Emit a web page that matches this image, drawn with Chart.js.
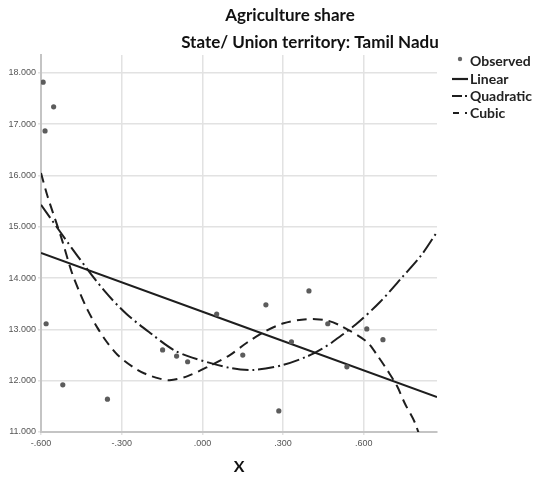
<!DOCTYPE html>
<html>
<head>
<meta charset="utf-8">
<script src="https://cdn.jsdelivr.net/npm/chart.js@4/dist/chart.umd.min.js"></script>
<style>
  html, body { margin: 0; padding: 0; background: #fff; }
  #wrap { width: 538px; height: 485px; }
</style>
</head>
<body>
<div id="wrap"><canvas id="c" width="538" height="485"></canvas></div>
<script>
// Observed values
const obsX = [-0.592, -0.553, -0.585, -0.581, -0.519, -0.353, -0.148, -0.096, -0.055, 0.053,
              0.150, 0.236, 0.284, 0.331, 0.396, 0.466, 0.537, 0.611, 0.671];
const obsY = [17.82, 17.34, 16.87, 13.11, 11.92, 11.64, 12.60, 12.48, 12.37, 13.30,
              12.50, 13.48, 11.41, 12.76, 13.75, 13.11, 12.27, 13.01, 12.80];

// Linear fit
const linX = [-0.6, 0.872];
const linY = [14.49, 11.68];

// Quadratic fit
const quadX = [-0.6, -0.464, -0.364, -0.282, -0.189, -0.107, -0.038, 0.102, 0.191, 0.295,
               0.388, 0.444, 0.485, 0.571, 0.661, 0.743, 0.814, 0.872];
const quadY = [15.43, 14.43, 13.75, 13.30, 12.91, 12.60, 12.45, 12.25, 12.21, 12.30,
               12.47, 12.62, 12.76, 13.10, 13.54, 14.02, 14.45, 14.90];

// Cubic fit
const cubX = [-0.6, -0.576, -0.524, -0.486, -0.457, -0.427, -0.390, -0.356, -0.315, -0.259,
              -0.215, -0.159, -0.122, -0.055, 0.027, 0.102, 0.165, 0.232, 0.302, 0.369,
              0.422, 0.466, 0.518, 0.611, 0.652, 0.689, 0.723, 0.753, 0.790, 0.830];
const cubY = [16.05, 15.60, 14.78, 14.12, 13.73, 13.38, 13.03, 12.76, 12.50, 12.27,
              12.14, 12.04, 12.01, 12.09, 12.29, 12.50, 12.74, 12.96, 13.12, 13.19,
              13.20, 13.17, 13.06, 12.76, 12.48, 12.19, 11.90, 11.55, 11.18, 10.55];

// Axis ticks
const xTicks = [-0.6, -0.3, 0, 0.3, 0.6];
const yTicks = [11, 12, 13, 14, 15, 16, 17, 18];

const titleText = 'Agriculture share';
const subtitleText = 'State/ Union territory: Tamil Nadu';
const legendLabels = ['Observed', 'Linear', 'Quadratic', 'Cubic'];

const pts = (xs, ys) => xs.map((x, i) => ({ x: x, y: ys[i] }));

const INK = '#1e1e1e';
const DASH_QUAD = [16, 4, 2, 4];
const DASH_CUB = [10, 6];

// Titles and legend drawn on top of the chart
const decor = {
  id: 'decor',
  afterDraw(chart) {
    const ctx = chart.ctx;
    ctx.save();
    ctx.fillStyle = '#111';
    ctx.textAlign = 'center';
    ctx.textBaseline = 'middle';
    ctx.font = 'bold 17px Lato, "Liberation Sans", sans-serif';
    ctx.fillText(titleText, 290, 16);
    ctx.fillText(subtitleText, 310, 43);

    // legend
    const lx = 452, tx = 470;
    const rows = [61, 79, 96, 113];
    ctx.textAlign = 'left';
    ctx.font = 'bold 14px Lato, "Liberation Sans", sans-serif';
    ctx.fillStyle = '#222';
    legendLabels.forEach((t, i) => ctx.fillText(t, tx, rows[i]));

    ctx.fillStyle = '#666';
    ctx.beginPath();
    ctx.arc(460, rows[0] - 2, 2.2, 0, Math.PI * 2);
    ctx.fill();

    ctx.strokeStyle = INK;
    ctx.lineWidth = 2.2;
    ctx.beginPath();
    ctx.moveTo(lx, rows[1]); ctx.lineTo(lx + 16, rows[1]);
    ctx.stroke();

    ctx.beginPath();
    ctx.moveTo(lx, rows[2]); ctx.lineTo(lx + 10, rows[2]);
    ctx.moveTo(lx + 13, rows[2]); ctx.lineTo(lx + 15, rows[2]);
    ctx.stroke();

    ctx.beginPath();
    ctx.moveTo(lx + 1, rows[3]); ctx.lineTo(lx + 7, rows[3]);
    ctx.moveTo(lx + 13, rows[3]); ctx.lineTo(lx + 15, rows[3]);
    ctx.stroke();
    ctx.restore();
  }
};

const lineDs = (label, xs, ys, dash) => ({
  type: 'line',
  label: label,
  data: pts(xs, ys),
  showLine: true,
  borderColor: INK,
  borderWidth: 2,
  borderDash: dash,
  pointRadius: 0,
  pointHoverRadius: 0,
  fill: false,
  tension: 0.3
});

new Chart(document.getElementById('c'), {
  type: 'scatter',
  data: {
    datasets: [
      {
        label: 'Observed',
        data: pts(obsX, obsY),
        backgroundColor: '#5c5c5c',
        borderColor: '#5c5c5c',
        pointRadius: 2.6,
        pointBorderWidth: 0
      },
      lineDs('Linear', linX, linY, []),
      lineDs('Quadratic', quadX, quadY, DASH_QUAD),
      lineDs('Cubic', cubX, cubY, DASH_CUB)
    ]
  },
  options: {
    responsive: false,
    animation: false,
    events: [],
    layout: { padding: { top: 55, right: 101, left: 0, bottom: 0 } },
    plugins: {
      legend: { display: false },
      title: { display: false },
      tooltip: { enabled: false }
    },
    scales: {
      x: {
        type: 'linear',
        min: -0.6,
        max: 0.872,
        afterBuildTicks: s => { s.ticks = xTicks.map(v => ({ value: v })); },
        afterFit: s => { s.height = 53; },
        grid: { color: '#e2e2e2', lineWidth: 1.5, tickLength: 3, drawTicks: true },
        border: { color: '#c4c4c4', width: 2 },
        ticks: {
          color: '#555',
          padding: 3,
          maxRotation: 0,
          font: { family: '"Liberation Sans Narrow", "Liberation Sans", sans-serif', size: 9 },
          callback: v => (v < 0 ? '-' : '') + Math.abs(v).toFixed(3).replace(/^0/, '')
        },
        title: {
          display: true,
          text: 'X',
          color: '#111',
          font: { family: 'Lato, "Liberation Sans", sans-serif', size: 16, weight: 'bold' },
          padding: { top: 0, bottom: 9 }
        }
      },
      y: {
        type: 'linear',
        min: 11,
        max: 18.35,
        afterBuildTicks: s => { s.ticks = yTicks.map(v => ({ value: v })); },
        afterFit: s => { s.width = 41; },
        grid: { color: '#e2e2e2', lineWidth: 1.5, tickLength: 3, drawTicks: true },
        border: { color: '#c4c4c4', width: 2 },
        ticks: {
          color: '#555',
          padding: 2,
          font: { family: '"Liberation Sans Narrow", "Liberation Sans", sans-serif', size: 9 },
          callback: v => v.toFixed(3)
        }
      }
    }
  },
  plugins: [decor]
});
</script>
</body>
</html>
